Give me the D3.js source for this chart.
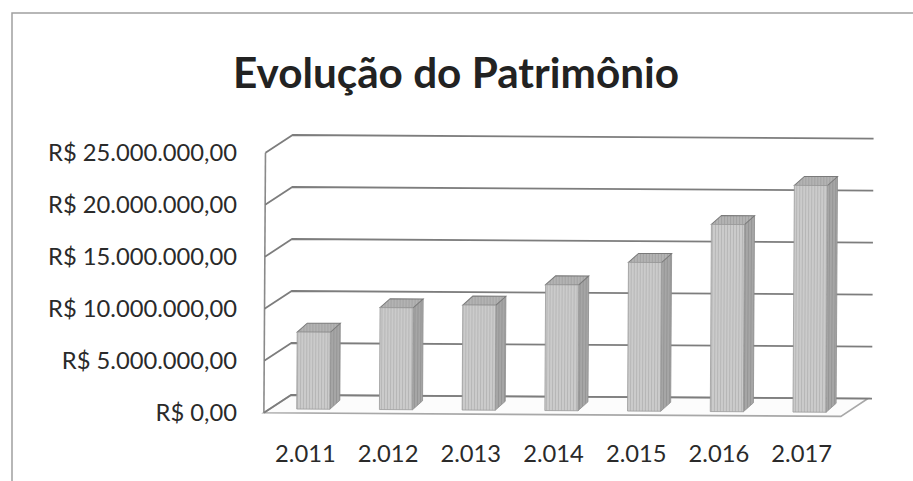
<!DOCTYPE html>
<html>
<head>
<meta charset="utf-8">
<script src="https://cdn.jsdelivr.net/npm/d3@7"></script>
<style>
  html, body { margin: 0; padding: 0; background: #ffffff; }
  svg { display: block; }
</style>
</head>
<body>
<script>
// ---- data ----
const title = "Evolução do Patrimônio";
const categories = ["2.011", "2.012", "2.013", "2.014", "2.015", "2.016", "2.017"];
const values = [7400000, 9800000, 10100000, 12100000, 14300000, 18000000, 21800000];
const yTicks = [0, 5000000, 10000000, 15000000, 20000000, 25000000];
const yTickLabels = ["R$ 0,00", "R$ 5.000.000,00", "R$ 10.000.000,00", "R$ 15.000.000,00", "R$ 20.000.000,00", "R$ 25.000.000,00"];

const W = 913, H = 481;
const FONT = "Lato, 'Open Sans', 'Liberation Sans', sans-serif";

const svg = d3.select("body").append("svg").attr("width", W).attr("height", H);
svg.append("rect").attr("width", W).attr("height", H).attr("fill", "#ffffff");

// chart area border (scan shows top and left edges)
svg.append("path").attr("d", `M12,${H} L12,13 L${W},13`)
  .attr("fill", "none").attr("stroke", "#a0a0a0").attr("stroke-width", 1.5);

// patterns for the scanned bar texture
const defs = svg.append("defs");
function stripes(id, base, line) {
  const p = defs.append("pattern").attr("id", id).attr("patternUnits", "userSpaceOnUse")
    .attr("width", 3).attr("height", 10);
  p.append("rect").attr("width", 3).attr("height", 10).attr("fill", base);
  p.append("rect").attr("width", 1).attr("height", 10).attr("fill", line);
}
stripes("frontTex", "#cbcbcb", "#b6b6b6");
stripes("sideTex", "#a6a6a6", "#959595");
stripes("topTex", "#b3b3b3", "#a2a2a2");

// ---- scales (back wall plane) ----
const backLeft = 291, backRight = 870;
const y = d3.scaleLinear().domain([0, 25000000]).range([395, 135]);
const x = d3.scaleBand().domain(categories).range([backLeft, backRight]).padding(0);
const depthDx = -27, depthDy = 18;          // back wall -> front edge of floor
const barFrontDy = 14;                       // bar front face offset from back wall
const barDepthDx = 10, barDepthDy = -9;      // bar front -> bar back

const plot = svg.append("g").attr("transform", `rotate(0.35, ${backLeft}, 395)`);

// floor
const y0 = y(0);
plot.append("path")
  .attr("d", `M${backLeft},${y0} L${backRight - 2},${y0} L${backRight - 2 + depthDx},${y0 + depthDy} L${backLeft + depthDx},${y0 + depthDy} Z`)
  .attr("fill", "#fcfcfc").attr("stroke", "#a8a8a8").attr("stroke-width", 1.6);

// left wall front vertical edge
plot.append("line")
  .attr("x1", backLeft + depthDx).attr("x2", backLeft + depthDx)
  .attr("y1", y(25000000) + depthDy).attr("y2", y0 + depthDy)
  .attr("stroke", "#8a8a8a").attr("stroke-width", 1.6);

// gridlines: back wall + side wall diagonals
const grid = plot.append("g");
grid.selectAll("path.g").data(yTicks).join("path")
  .attr("class", "g")
  .attr("d", d => `M${backLeft + depthDx},${y(d) + depthDy} L${backLeft},${y(d)} L${backRight + 2},${y(d)}`)
  .attr("fill", "none").attr("stroke", "#7d7d7d").attr("stroke-width", 1.8)
  .attr("stroke-linejoin", "round");

// bars
const bw = x.bandwidth();
const bars = plot.append("g").selectAll("g.bar").data(categories.map((c, i) => ({ c, v: values[i] }))).join("g").attr("class", "bar");
bars.each(function(d) {
  const g = d3.select(this);
  const fx = x(d.c) + bw * 0.07, fw = bw * 0.4;
  const fTop = y(d.v) + barFrontDy, fBot = y(0) + barFrontDy;
  // side face
  g.append("path")
    .attr("d", `M${fx + fw},${fTop} L${fx + fw + barDepthDx},${fTop + barDepthDy} L${fx + fw + barDepthDx},${fBot + barDepthDy} L${fx + fw},${fBot} Z`)
    .attr("fill", "url(#sideTex)").attr("stroke", "#8c8c8c").attr("stroke-width", 0.8);
  // top face
  g.append("path")
    .attr("d", `M${fx},${fTop} L${fx + barDepthDx},${fTop + barDepthDy} L${fx + fw + barDepthDx},${fTop + barDepthDy} L${fx + fw},${fTop} Z`)
    .attr("fill", "url(#topTex)").attr("stroke", "#7a7a7a").attr("stroke-width", 1);
  // front face
  g.append("rect")
    .attr("x", fx).attr("y", fTop).attr("width", fw).attr("height", fBot - fTop)
    .attr("fill", "url(#frontTex)").attr("stroke", "#9a9a9a").attr("stroke-width", 0.8);
});

// ---- text ----
function fitText(sel, target) {
  const w = sel.node().getComputedTextLength();
  const fs = parseFloat(sel.attr("font-size"));
  sel.attr("font-size", (fs * target / w).toFixed(2));
}

const t = svg.append("text").text(title)
  .attr("x", 456).attr("y", 88).attr("text-anchor", "middle")
  .attr("font-family", FONT).attr("font-weight", 700).attr("font-size", 40)
  .attr("fill", "#222222");
fitText(t, 446);

// y labels (aligned with the front edge of the side wall)
const yl = svg.append("g").selectAll("text").data(yTicks).join("text")
  .text((d, i) => yTickLabels[i])
  .attr("x", 237).attr("y", d => y(d) + depthDy)
  .attr("dy", "0.35em").attr("text-anchor", "end")
  .attr("font-family", FONT).attr("font-size", 22).attr("fill", "#2a2a2a");
let labelSize = 22;
{
  const widest = yl.filter((d, i) => i === yTicks.length - 1);
  const w = widest.node().getComputedTextLength();
  labelSize = 22 * 189 / w;
  yl.attr("font-size", labelSize.toFixed(2));
}

// category labels (centered under the front edge of the floor)
svg.append("g").selectAll("text").data(categories).join("text")
  .text(d => d)
  .attr("x", d => x(d) + bw / 2 + depthDx)
  .attr("y", 462).attr("text-anchor", "middle")
  .attr("font-family", FONT).attr("font-size", labelSize.toFixed(2)).attr("fill", "#2a2a2a");
</script>
</body>
</html>
